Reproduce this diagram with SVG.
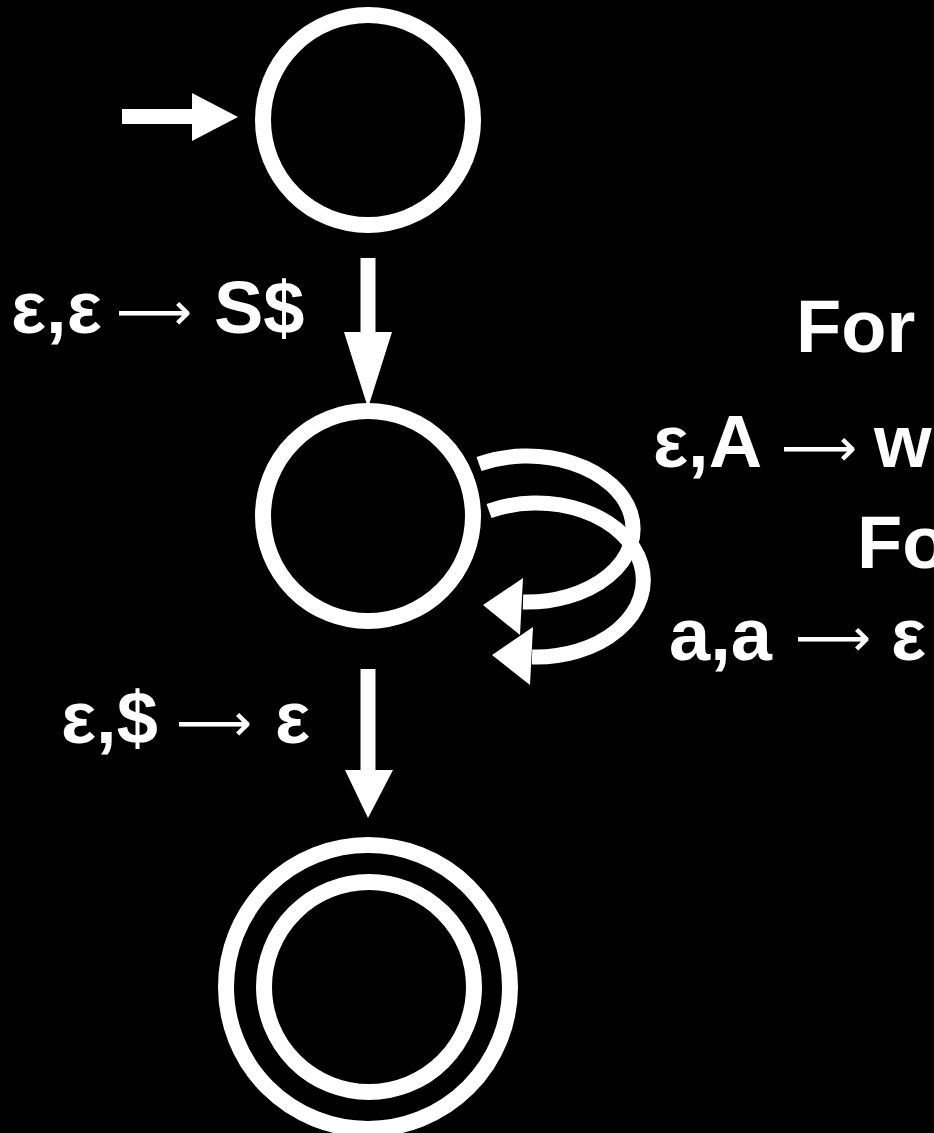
<svg xmlns="http://www.w3.org/2000/svg" width="934" height="1133" viewBox="0 0 934 1133">
<style>
.st{fill:none;stroke:#fff;stroke-width:16}
.ln{fill:none;stroke:#fff;stroke-width:15}
.hd{fill:#fff;stroke:none}
.lb{fill:#fff;font-family:"Liberation Sans",Arial,sans-serif;font-weight:bold;font-size:74px}
.ar{fill:#fff;font-family:"DejaVu Sans",sans-serif;font-weight:normal;font-size:53px}
</style>
<rect x="0" y="0" width="934" height="1133" fill="#000"/>
<g id="connectors">
  <g id="start-arrow">
    <rect x="122" y="109" width="72" height="15" class="hd"/>
    <polygon points="192,93 238,117 192,141" class="hd"/>
  </g>
  <g id="edge-q0-q1">
    <line x1="368" y1="258" x2="368" y2="334" class="ln"/>
    <polygon points="344,332 392,332 368,408" class="hd"/>
  </g>
  <g id="loop-1">
    <path d="M 479 464 A 106 73 0 1 1 523 602" class="ln"/>
    <polygon points="483,605 523,578 520,635" class="hd"/>
  </g>
  <g id="loop-2">
    <path d="M 489 511 A 107 77 0 1 1 532 657" class="ln"/>
    <polygon points="492,655 533,627 530,685" class="hd"/>
  </g>
  <g id="edge-q1-q2">
    <line x1="368" y1="669" x2="368" y2="772" class="ln"/>
    <polygon points="345,770 393,770 368,818" class="hd"/>
  </g>
</g>
<g id="q0"><circle cx="368" cy="120" r="105" class="st"/></g>
<g id="q1"><circle cx="368" cy="516" r="105" class="st"/></g>
<g id="q2">
  <circle cx="368" cy="987" r="142" class="st"/>
  <circle cx="369" cy="987" r="105" class="st"/>
</g>
<g id="labels">
  <g id="label-push">
    <text class="lb" x="11" y="333">ε,ε</text>
    <text class="ar" x="116" y="330">⟶</text>
    <text class="lb" x="214" y="333">S$</text>
  </g>
  <g id="label-pop">
    <text class="lb" x="61" y="743">ε,$</text>
    <text class="ar" x="176" y="741">⟶</text>
    <text class="lb" x="275" y="743">ε</text>
  </g>
  <text class="lb" x="796" y="352">For</text>
  <g id="label-rule">
    <text class="lb" x="653" y="467">ε,A</text>
    <text class="ar" x="781" y="466">⟶</text>
    <text class="lb" x="874" y="467">w</text>
  </g>
  <text class="lb" x="857" y="568">Fo</text>
  <g id="label-match">
    <text class="lb" x="669" y="660">a,a</text>
    <text class="ar" x="795" y="656">⟶</text>
    <text class="lb" x="891" y="660">ε</text>
  </g>
</g>
</svg>
